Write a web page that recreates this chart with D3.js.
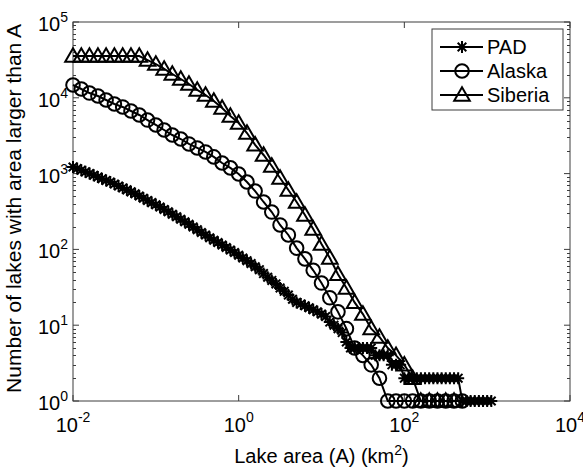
<!DOCTYPE html>
<html>
<head>
<meta charset="utf-8">
<script src="https://cdn.jsdelivr.net/npm/d3@7"></script>
<style>
  body { margin: 0; background: #fff; }
  text { font-family: "Liberation Sans", Arial, sans-serif; fill: #000; }
</style>
</head>
<body>
<div class="content"></div>
<script>
const WIDTH = 583, HEIGHT = 470;
const MARGIN = {top: 22, right: 13, bottom: 69, left: 73};
const PLOT_W = WIDTH - MARGIN.left - MARGIN.right;
const PLOT_H = HEIGHT - MARGIN.top - MARGIN.bottom;

// x tick labels (exponents) and y tick labels (exponents)
const xTickExp = [-2, 0, 2, 4];
const yTickExp = [0, 1, 2, 3, 4, 5];

// PAD (asterisks)
const padArea = [
  0.01, 0.01122, 0.01259, 0.01413, 0.01585, 0.01778, 0.01995, 0.02239, 0.02512, 0.02818,
  0.03162, 0.03548, 0.03981, 0.04467, 0.05012, 0.05623, 0.0631, 0.07079, 0.07943, 0.08913,
  0.1, 0.1122, 0.1259, 0.1413, 0.1585, 0.1778, 0.1995, 0.2239, 0.2512, 0.2818,
  0.3162, 0.3548, 0.3981, 0.4467, 0.5012, 0.5623, 0.631, 0.7079, 0.7943, 0.8913,
  1, 1.122, 1.259, 1.413, 1.585, 1.778, 1.995, 2.239, 2.512, 2.818,
  3.162, 3.548, 3.981, 4.467, 5.012, 5.623, 6.31, 7.079, 7.943, 8.913,
  10, 11.22, 12.59, 14.13, 15.85, 17.78, 19.95, 22.39, 25.12, 28.18,
  31.62, 35.48, 39.81, 44.67, 50.12, 56.23, 63.1, 70.79, 79.43, 89.13,
  100, 112.2, 125.9, 141.3, 158.5, 177.8, 199.5, 223.9, 251.2, 281.8,
  316.2, 354.8, 398.1, 446.7, 501.2, 562.3, 631, 707.9, 794.3, 891.3,
  1000, 1122
];
const padCount = [
  1222, 1164, 1109, 1054, 1000, 951, 902, 857, 813, 773,
  728, 685, 647, 610, 574, 541, 506, 473, 443, 414,
  387, 362, 337, 313, 290, 270, 250, 231, 214, 198,
  182, 167, 155, 142, 132, 123, 114, 106, 98, 91,
  84, 77, 71, 65, 59, 54, 48, 43, 39, 35,
  31, 28, 25, 22, 20, 19, 18, 17, 16, 15,
  14, 13, 11, 10, 9, 8, 6, 5, 5, 5,
  5, 5, 5, 4, 4, 4, 4, 3, 3, 3,
  2, 2, 2, 2, 2, 2, 2, 2, 2, 2,
  2, 2, 2, 2, 1, 1, 1, 1, 1, 1,
  1, 1
];

// Alaska (circles)
const alaskaArea = [
  0.01, 0.0126, 0.0158, 0.02, 0.0251, 0.0316, 0.0398, 0.0501, 0.0631, 0.0794,
  0.1, 0.126, 0.158, 0.2, 0.251, 0.316, 0.398, 0.501, 0.631, 0.794,
  1, 1.26, 1.58, 2, 2.51, 3.16, 3.98, 5.01, 6.31, 7.94,
  10, 12.6, 15.8, 20, 25.1, 31.6, 39.8, 50.1, 63.1, 79.4,
  100, 126, 158, 200, 251, 316, 398, 501
];
const alaskaCount = [
  14750, 13060, 11560, 10560, 9350, 8280, 7570, 6700, 5930, 5090,
  4380, 3760, 3230, 2860, 2460, 2180, 1930, 1660, 1380, 1190,
  988, 775, 589, 422, 311, 210, 155, 104, 75, 53,
  36, 23, 15, 9, 5, 4, 3, 2, 1, 1,
  1, 1, 1, 1, 1, 1, 1, 1
];

// Siberia (triangles)
const siberiaArea = [
  0.01, 0.0126, 0.0158, 0.02, 0.0251, 0.0316, 0.0398, 0.0501, 0.0631, 0.0794,
  0.1, 0.126, 0.158, 0.2, 0.251, 0.316, 0.398, 0.501, 0.631, 0.794,
  1, 1.26, 1.58, 2, 2.51, 3.16, 3.98, 5.01, 6.31, 7.94,
  10, 12.6, 15.8, 20, 25.1, 31.6, 39.8, 50.1, 63.1, 79.4,
  100, 126, 158, 200, 251, 316, 398
];
const siberiaCount = [
  35500, 35500, 35500, 35500, 35500, 35500, 35500, 35500, 35500, 31500,
  27900, 24000, 20600, 17700, 15200, 12700, 10900, 9080, 7330, 5750,
  4650, 3430, 2390, 1760, 1260, 875, 608, 422, 284, 186,
  118, 77, 47, 31, 20, 14, 9, 7, 5, 4,
  3, 2, 1, 1, 1, 1, 1
];

const seriesNames = ["PAD", "Alaska", "Siberia"];
const seriesMarkers = ["asterisk", "circle", "triangle"];

const series = [
  {name: seriesNames[0], marker: seriesMarkers[0], pts: padArea.map((a, i) => ({a: a, n: padCount[i]}))},
  {name: seriesNames[1], marker: seriesMarkers[1], pts: alaskaArea.map((a, i) => ({a: a, n: alaskaCount[i]}))},
  {name: seriesNames[2], marker: seriesMarkers[2], pts: siberiaArea.map((a, i) => ({a: a, n: siberiaCount[i]}))}
];

const svg = d3.select(".content").append("svg")
  .attr("width", WIDTH).attr("height", HEIGHT)
  .append("g").attr("transform", "translate(" + MARGIN.left + "," + MARGIN.top + ")");

const x = d3.scaleLog().domain([1e-2, 1e4]).range([0, PLOT_W]);
const y = d3.scaleLog().domain([1, 1e5]).range([PLOT_H, 0]);

const AXIS_COL = "#3c3c3c";

// box
svg.append("rect").attr("width", PLOT_W).attr("height", PLOT_H)
  .attr("fill", "none").attr("stroke", AXIS_COL).attr("stroke-width", 1);

// y ticks (major + minor, inward, left and right)
let yMinor = [];
for (let e = 0; e < 5; e++) for (let m = 2; m <= 9; m++) yMinor.push(m * Math.pow(10, e));
let yt = svg.append("g").attr("class", "y-ticks").attr("stroke", AXIS_COL).attr("stroke-width", 1);
yt.selectAll(".ym").data(yMinor).join("line").attr("class", "ym")
  .attr("x1", 0).attr("x2", 3).attr("y1", d => Math.round(y(d)) + 0.5).attr("y2", d => Math.round(y(d)) + 0.5);
yt.selectAll(".ymr").data(yMinor).join("line").attr("class", "ymr")
  .attr("x1", PLOT_W).attr("x2", PLOT_W - 3).attr("y1", d => Math.round(y(d)) + 0.5).attr("y2", d => Math.round(y(d)) + 0.5);
yt.selectAll(".yM").data(yTickExp).join("line").attr("class", "yM")
  .attr("x1", 0).attr("x2", 6).attr("y1", d => y(Math.pow(10, d))).attr("y2", d => y(Math.pow(10, d)));
yt.selectAll(".yMr").data(yTickExp).join("line").attr("class", "yMr")
  .attr("x1", PLOT_W).attr("x2", PLOT_W - 6).attr("y1", d => y(Math.pow(10, d))).attr("y2", d => y(Math.pow(10, d)));

// x ticks
let xt = svg.append("g").attr("class", "x-ticks").attr("stroke", AXIS_COL).attr("stroke-width", 1);
xt.selectAll(".xM").data(xTickExp).join("line").attr("class", "xM")
  .attr("x1", d => x(Math.pow(10, d))).attr("x2", d => x(Math.pow(10, d)))
  .attr("y1", PLOT_H).attr("y2", PLOT_H - 6);
xt.selectAll(".xMt").data(xTickExp).join("line").attr("class", "xMt")
  .attr("x1", d => x(Math.pow(10, d))).attr("x2", d => x(Math.pow(10, d)))
  .attr("y1", 0).attr("y2", 6);

// tick labels
const FS = 20, SUP = 14;
svg.selectAll(".ylab").data(yTickExp).join("text").attr("class", "ylab")
  .attr("x", -5).attr("y", d => y(Math.pow(10, d)) + 9)
  .attr("text-anchor", "end").style("font-size", FS + "px")
  .each(function(d) {
    let t = d3.select(this);
    t.append("tspan").text("10");
    t.append("tspan").attr("dy", -9).style("font-size", SUP + "px").text(d);
  });
svg.selectAll(".xlab").data(xTickExp).join("text").attr("class", "xlab")
  .attr("x", d => x(Math.pow(10, d))).attr("y", PLOT_H + 31)
  .attr("text-anchor", "middle").style("font-size", FS + "px")
  .each(function(d) {
    let t = d3.select(this);
    t.append("tspan").text("10");
    t.append("tspan").attr("dy", -10).style("font-size", SUP + "px").text(d < 0 ? "-" + (-d) : d);
  });

// axis titles
let xl = svg.append("text").attr("x", PLOT_W / 2).attr("y", PLOT_H + 62)
  .attr("text-anchor", "middle").style("font-size", FS + "px");
xl.append("tspan").text("Lake area (A) (km");
xl.append("tspan").attr("dy", -8).style("font-size", SUP + "px").text("2");
xl.append("tspan").attr("dy", 8).text(")");

svg.append("text").attr("transform", "translate(" + (-52) + "," + (PLOT_H / 2 - 3) + ") rotate(-90)")
  .attr("text-anchor", "middle").style("font-size", "21px")
  .text("Number of lakes with area larger than A");

// markers
function drawMarker(g, type) {
  if (type === "circle") {
    g.append("circle").attr("r", 6.8).attr("fill", "none").attr("stroke", "#000").attr("stroke-width", 2);
  } else if (type === "triangle") {
    g.append("path").attr("d", "M0,-7.8L7.8,5.7L-7.8,5.7Z").attr("fill", "none")
      .attr("stroke", "#000").attr("stroke-width", 2).attr("stroke-linejoin", "miter");
  } else {
    const r = 6, q = 4.3;
    g.append("path").attr("d", "M" + (-r) + ",0H" + r + "M0," + (-r) + "V" + r +
      "M" + (-q) + "," + (-q) + "L" + q + "," + q + "M" + (-q) + "," + q + "L" + q + "," + (-q))
      .attr("stroke", "#000").attr("stroke-width", 2).attr("fill", "none");
  }
}

let line = d3.line().x(d => x(d.a)).y(d => y(d.n));

let lines = svg.append("g").attr("class", "lines-group");
series.forEach(s => {
  lines.append("path").attr("d", line(s.pts)).attr("fill", "none")
    .attr("stroke", "#000").attr("stroke-width", 2);
  lines.append("g").selectAll("g").data(s.pts).join("g")
    .attr("transform", d => "translate(" + x(d.a) + "," + y(d.n) + ")")
    .each(function() { drawMarker(d3.select(this), s.marker); });
});

// legend
let lg = svg.append("g").attr("transform", "translate(" + (432 - MARGIN.left) + "," + (29 - MARGIN.top) + ")");
lg.append("rect").attr("width", 131).attr("height", 81).attr("fill", "#fff")
  .attr("stroke", AXIS_COL).attr("stroke-width", 1);
series.forEach((s, i) => {
  let row = lg.append("g").attr("transform", "translate(0," + (18 + i * 24) + ")");
  row.append("line").attr("x1", 8).attr("x2", 51).attr("stroke", "#000").attr("stroke-width", 2);
  let m = row.append("g").attr("transform", "translate(30,0)");
  drawMarker(m, s.marker);
  row.append("text").attr("x", 55).attr("y", 7).style("font-size", FS + "px").text(s.name);
});
</script>
</body>
</html>
